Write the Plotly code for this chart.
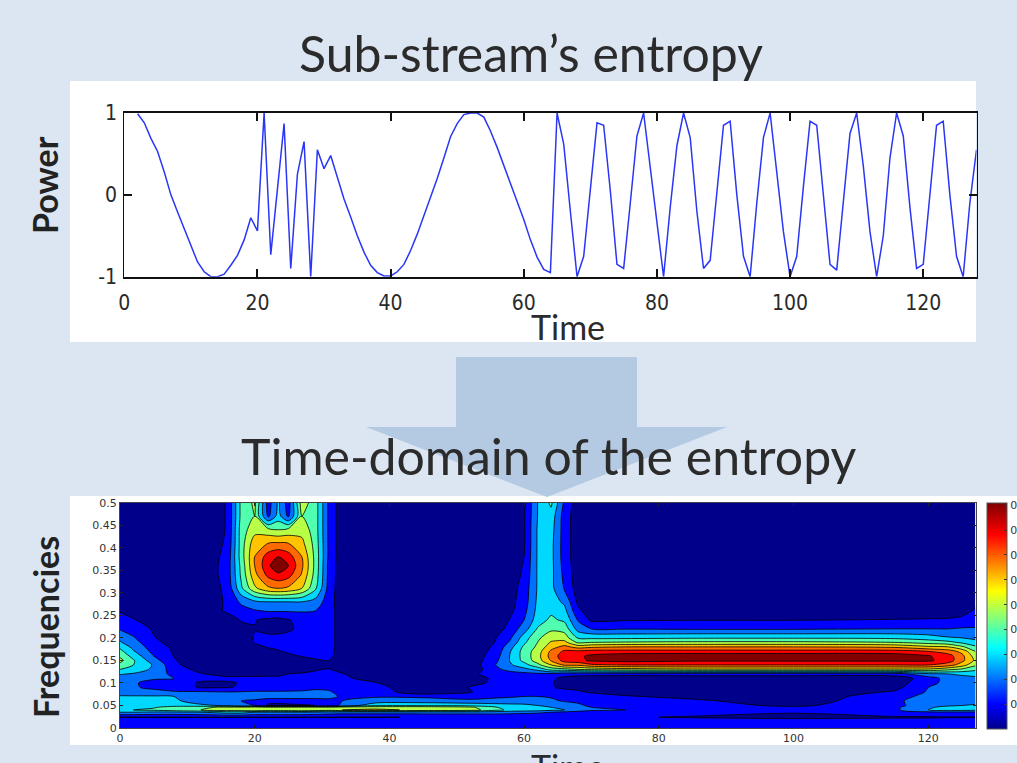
import plotly.graph_objects as go
import numpy as np

W, H = 1017, 763
def px(x): return x / W
def py(y): return 1 - y / H

# Top panel: signal
time_samples = list(range(2, 129))
power_values = [
    0.99, 0.88, 0.69, 0.53, 0.28, 0.0, -0.21, -0.41, -0.63, -0.82, -0.94, -1.0, -1.0, -0.97, -0.86, -0.74, -0.55,
    -0.28, -0.44, 1.0, -0.73, 0.1, 0.87, -0.9, 0.25, 0.65, -1.0, 0.55, 0.32, 0.48,
    0.22, -0.05, -0.27, -0.5, -0.7, -0.86, -0.95, -0.99, -0.99, -0.94, -0.85, -0.68, -0.48, -0.26, -0.04, 0.2, 0.45,
    0.71, 0.87, 0.98, 1.0, 1.0, 0.95, 0.78, 0.58, 0.37, 0.14, -0.08, -0.3, -0.55, -0.76, -0.91, -0.95,
    1.0, 0.62, -0.2, -1.0, -0.75, 0.05, 0.88, 0.85, 0.05, -0.85, -0.9, -0.1, 0.72, 1.0, 0.35, -0.35, -1.0, -0.15,
    0.6, 1.0, 0.7, -0.2, -0.9, -0.8, 0.0, 0.85, 0.9, 0.0, -0.75, -1.0, -0.1, 0.7, 1.0, 0.3, -0.45, -1.0, -0.75,
    0.1, 0.9, 0.85, -0.05, -0.85, -0.92, -0.05, 0.75, 1.0, 0.35, -0.45, -1.0, -0.5, 0.45, 1.0, 0.72, -0.15, -0.9,
    -0.85, 0.05, 0.85, 0.9, 0.0, -0.75, -1.0, -0.1, 0.55,
]
top_x_ticks = [0, 20, 40, 60, 80, 100, 120]
top_y_ticks = [-1, 0, 1]
top_y_labels = ["-1", "0", "1"]

# Bottom panel: time-frequency map
grid_time = [0, 2, 5, 8, 12, 16, 18, 20, 22, 23.5, 25, 27, 29, 31, 33, 38, 45, 52, 56, 58, 60, 62, 64, 66, 68, 70,
             75, 85, 100, 115, 120, 123, 125, 127]
grid_freq = [0.5, 0.47, 0.44, 0.41, 0.38, 0.36, 0.34, 0.31, 0.28, 0.26, 0.24, 0.22, 0.20, 0.19, 0.18, 0.17, 0.16,
             0.15, 0.14, 0.13, 0.12, 0.11, 0.10, 0.09, 0.08, 0.07, 0.06, 0.05, 0.046, 0.04, 0.035, 0.024, 0.018, 0.01, 0.0]
grid_power = [
    [1,1,1,1,1, 11,43,52,15,32,15,55,45,18,3, 1,1,1,2,3,8,30,42,18,4,2, 1,1,1,1,1,1,1,1],
    [1,1,1,1,1, 11,43,50,18,34,18,50,45,18,3, 1,1,1,2,3,9,30,36,15,4,2, 1,1,1,1,1,1,1,1],
    [1,1,1,1,1, 11,45,56,53,50,53,56,45,18,3, 1,1,1,2,3,9,31,34,15,4,2, 1,1,1,1,1,1,1,1],
    [1,1,1,1,1, 12,45,66,70,71,70,63,46,18,3, 1,1,1,2,3,9,31,33,15,4,2, 1,1,1,1,1,1,1,1],
    [1,1,1,1,1, 14,45,70,85,90,85,70,47,18,3, 1,1,1,2,3,10,31,33,15,4,2, 1,1,1,1,1,1,1,1],
    [1,1,1,1,1, 15,43,70,88,97,90,72,47,17,3, 1,1,1,2,4,11,31,33,16,4,2, 1,1,1,1,1,1,1,1],
    [1,1,1,1,1, 15,42,67,83,88,84,69,46,17,3, 1,1,1,2,4,12,31,33,17,4,2, 1,1,1,1,1,1,1,1],
    [1,1,1,1,1, 13,38,58,68,70,68,60,42,16,3, 1,1,1,2,6,14,31,33,19,5,2, 1,1,1,1,1,1,1,1],
    [1,1,1,1,1, 12,22,28,30,30,30,30,26,15,3, 1,1,1,3,7,15,32,35,28,8,3, 2,1,1,1,1,1,2,8],
    [9.5,7,3,1,1, 12,16,19,21,21,21,21,20,14,5, 1,1,1,1,8,17,33,38,33,12,5, 3,2,2,2,3,5,7,11],
    [13,10.5,6,2,1, 4,11,10.5,8,7,9.5,13,15,14,5, 1,1,1,3,11,20,35,42,38,19,8, 9,9.5,9.5,10.5,11,11,12,15],
    [19,15,9,4,1, 2,6,9.5,6,6,8,13,15,14,5, 1,1,1,6,14,25,41,48,46,26,20, 19.5,19,19,20,20,20,21,21],
    [28,21,10.5,6,1.5, 1,3,11,13,13,14,15,15,14,5, 1,1,1,10.5,19,35,48,56,55,39,38, 38,39,39,38,35,31,30,28],
    [31,24,12,7,1, 1,2,10.5,12,13,14,15,15,14,5, 1,1,1,11,22,38,50,61,63,48,50, 51,52,52,50,46,43,38,33],
    [38,27,15,8,1, 1,2,8,10.5,11,13,15,15,14,5, 1,1,1,13,27,42,52,66,73,66,68, 70,70,70,68,62,60,52,42],
    [43,31,17,9,1, 1,1,5,8,9.5,11,13,14,14,4, 1,1,1,15,30,44,55,72,82,82,84, 84,84,84,84,80,75,67,50],
    [48,36,20,9.7,1, 1,1,3,5,7,8.5,10.5,12,13,4, 1,1,2,17,31,44,56,74,86,88,92, 96,97,97,96,91,84,73,55],
    [53,41,24,11,1, 1,1,2,3,4,5,7,9,10,3, 1,1,2,19,31,43,55,71,84,87,92, 94,92,92,92,92,85,73,58],
    [47,40,29,13,2, 1,1,1,2,2,3,3,5,7,2, 1,1,3,21,29,36,47,60,72,72,78, 80,80,80,80,80,75,65,52],
    [40,36,28,15,7, 2,2,3,3,4,5,8,9.5,10.5,7, 1,1,3,18,24,27,33,44,46,50,52, 55,58,58,58,58,52,48,42],
    [31,29,24,18,10.5, 7,8,8,9,9,10,10.5,11,12,10.5, 3,1,8,14,15,17,18,18,15,14,14, 14,15,15,15,28,30,32,34],
    [25,24,21,20,12, 12,11.5,11.5,11,11,11.5,12,12,13,12, 6,1,4,13,13,14,14,12,7,5,4, 3,3,3,4,15,24,26,27],
    [22,21,17,14,9, 9,10.5,12,12,12,13,14,15,15,14, 10.5,2,6,13,14,14,13,11,6,4,4, 3,3,3,5,17,23,25,26],
    [22,21,18,15,9, 9.5,11,14,14,15,15,17,18,18,15, 13,3,10.5,13,14,14,13,10.5,9,8,5, 4,3,3,7,20,24,25,26],
    [25,24,23,21,21, 20,20.5,21,21,21,21,21,22,21,17, 15,3,9.5,15,16,17,16,15,12,11,9, 6,4,3,11,21,25,26,26],
    [31,31,31,30,29, 26,26,25,25,25,25,25,24,22,19, 19,18,13,18,19,20,20,19,17,16,14, 11,7,3,16,23,26,26,26],
    [35,35,34,33,22, 22,20,18,14,14,14,14,15,18,20, 24,25,24,24,24,25,24,22,19,18,16, 14,12,4,18,25,26,26,27],
    [36,36,36,36,33, 28,22,20,8,7,8,9,10,14,22, 38,38,36,34,33,32,30,28,26,22,18, 16,14,8,17,26,29,30,31],
    [37,38,39,44,48, 52,53,55,54,55,55,56,55,53,55, 56,56,52,40,36,34,33,30,28,24,20, 18,15,12,18,29,32,32,32],
    [38,40,42,46,50, 55,56,60,57,58,58,60,58,55,60, 62,58,55,42,38,36,35,32,30,26,22, 20,16,13,18,30,33,33,32],
    [30,30,28,28,30, 35,35,30,30,30,30,30,28,26,25, 25,25,25,25,24,23,22,20,18,16,15, 14,12,10.5,16,18,18,18,18],
    [9.5,9.5,9.5,9.5,9.5, 9.5,9.5,9.5,9.5,9.5,9.5,9.5,9.5,9.5,9.5, 9.5,10.5,10.5,11,11,11,11,11,11,11,11, 10.5,9.5,8,9,9,9.5,9.5,9.5],
    [15,15,15,15,14, 14,14,13,13,13,13,13,13,13,13, 14,13,13,14,14,14,14,14,14,14,14, 14,12,12,12,12,12,12,12],
    [15,15,15,15,15, 15,15,15,15,15,15,15,15,15,15, 15,15,15,15,15,15,15,15,15,15,15, 15,15,15,15,15,15,15,15],
    [15,15,15,15,15, 15,15,15,15,15,15,15,15,15,15, 15,15,15,15,15,15,15,15,15,15,15, 15,15,15,15,15,15,15,15],
]
bottom_x_ticks = [0, 20, 40, 60, 80, 100, 120]
bottom_y_ticks = [0, 0.05, 0.1, 0.15, 0.2, 0.25, 0.3, 0.35, 0.4, 0.45, 0.5]
bottom_y_labels = ["0", "0.05", "0.1", "0.15", "0.2", "0.25", "0.3", "0.35", "0.4", "0.45", "0.5"]
colorbar_ticks = [11, 22, 33, 44, 55, 66, 77, 88, 99]
colorbar_labels = ["0"] * 9

band_colors = ["#00008A", "#0000FF", "#0070FF", "#00D8FF", "#50FFB0", "#B8FF48", "#FFC400", "#FF6A00", "#FF0000", "#800000"]
band_scale = []
for i, c in enumerate(band_colors):
    band_scale += [[i / 10, c], [(i + 1) / 10, c]]
jet_scale = [[0, "#00008A"], [0.11, "#0000FF"], [0.36, "#00FFFF"], [0.61, "#FFFF00"], [0.86, "#FF0000"], [1, "#800000"]]

BG = "#DCE6F2"
fig = go.Figure()

fig.add_trace(go.Scatter(x=time_samples, y=power_values, mode="lines", line=dict(color="#2A36F5", width=1.5),
                         xaxis="x", yaxis="y", showlegend=False, cliponaxis=True))

# Smooth colour bar drawn from a hidden cell underneath the contour
fig.add_trace(go.Heatmap(x=[10, 11], y=[0.2], z=[[0, 100]], zmin=0, zmax=100, colorscale=jet_scale, xaxis="x2", yaxis="y2",
                         showscale=True, hoverinfo="skip",
                         colorbar=dict(x=px(986.7), xanchor="left", xref="paper", y=py(729), yanchor="bottom", yref="paper",
                                       len=226 / H, lenmode="fraction", thickness=20, thicknessmode="pixels",
                                       xpad=0, ypad=0, outlinewidth=1, outlinecolor="#555555",
                                       tickmode="array", tickvals=colorbar_ticks, ticktext=colorbar_labels,
                                       ticks="inside", ticklen=3, tickcolor="#333333",
                                       tickfont=dict(family="DejaVu Sans", size=11, color="#333333"))))
fig.add_trace(go.Contour(x=grid_time, y=grid_freq[::-1], z=np.array(grid_power)[::-1].tolist(),
                         zmin=0, zmax=100, colorscale=band_scale, showscale=False, xaxis="x2", yaxis="y2",
                         autocontour=False, contours=dict(start=10, end=90, size=10, coloring="fill"),
                         line=dict(color="#000000", width=0.8, smoothing=0.8)))

ticks_top = dict(family="'DejaVu Sans Condensed', 'Liberation Sans', sans-serif", size=21, color="#2A2A2A")
ticks_bot = dict(family="DejaVu Sans", size=11, color="#333333")
fig.update_layout(
    width=W, height=H, autosize=False, margin=dict(l=0, r=0, t=0, b=0, autoexpand=False),
    paper_bgcolor=BG, plot_bgcolor="rgba(0,0,0,0)", showlegend=False,
    xaxis=dict(domain=[px(124.3), px(976.5)], range=[0, 128], tickmode="array", tickvals=top_x_ticks, ticks="inside", ticklen=8, tickwidth=1.5,
               tickcolor="#111111", showline=True, linecolor="#111111", linewidth=2, mirror="ticks", showgrid=False, zeroline=False,
               tickfont=ticks_top, ticklabelstandoff=6),
    yaxis=dict(domain=[py(276.7), py(113)], range=[-1, 1], tickmode="array", tickvals=top_y_ticks, ticktext=top_y_labels, ticks="inside", ticklen=8, tickwidth=1.5,
               tickcolor="#111111", showline=True, linecolor="#111111", linewidth=1, mirror="ticks", showgrid=False, zeroline=False,
               tickfont=ticks_top, ticklabelstandoff=2),
    xaxis2=dict(domain=[px(120), px(976)], range=[0, 127.1], anchor="y2", tickmode="array", tickvals=bottom_x_ticks, ticks="inside",
                ticklen=3, tickcolor="#222222", showline=True, linecolor="#444444", linewidth=1, mirror="ticks", showgrid=False,
                zeroline=False, tickfont=ticks_bot),
    yaxis2=dict(domain=[py(728), py(502.7)], range=[0, 0.5], anchor="x2", tickmode="array", tickvals=bottom_y_ticks,
                ticktext=bottom_y_labels, ticks="inside", ticklen=3, tickcolor="#222222", showline=True, linecolor="#444444",
                linewidth=1, mirror="ticks", showgrid=False, zeroline=False, tickfont=ticks_bot),
)

def rect(x0, y0, x1, y1, color):
    return dict(type="rect", xref="paper", yref="paper", x0=px(x0), x1=px(x1), y0=py(y1), y1=py(y0),
                fillcolor=color, line=dict(width=0), layer="below")

arrow = [(456, 357), (637, 357), (637, 427), (727, 427), (547, 497), (366, 427), (456, 427)]
arrow_path = "M " + " L ".join(f"{px(a)} {py(b)}" for a, b in arrow) + " Z"
fig.update_layout(shapes=[
    rect(70, 81, 976, 342, "#FFFFFF"),
    rect(70, 496, 1017, 745, "#FFFFFF"),
    dict(type="path", xref="paper", yref="paper", path=arrow_path, fillcolor="#B4C9E2", line=dict(width=0), layer="below"),
])

def label(text, x, y, size, family="Lato", color="#2B2B2B", bold=False, angle=0):
    fig.add_annotation(text=f"<b>{text}</b>" if bold else text, xref="paper", yref="paper", x=px(x), y=py(y), showarrow=False,
                       xanchor="center", yanchor="middle", textangle=angle, font=dict(family=family, size=size, color=color))

label("Sub-stream’s entropy", 531, 53, 50)
label("Time-domain of the entropy", 549, 456, 50)
label("Time", 568, 326, 34)
label("Time", 568, 766, 34)
label("Power", 45, 185, 34, bold=True, color="#222222", angle=-90)
label("Frequencies", 45, 627, 34, bold=True, color="#222222", angle=-90)

fig.write_html("out.html", config=dict(displayModeBar=False),
               post_script="document.body.style.margin='0';document.body.style.overflow='hidden';")
